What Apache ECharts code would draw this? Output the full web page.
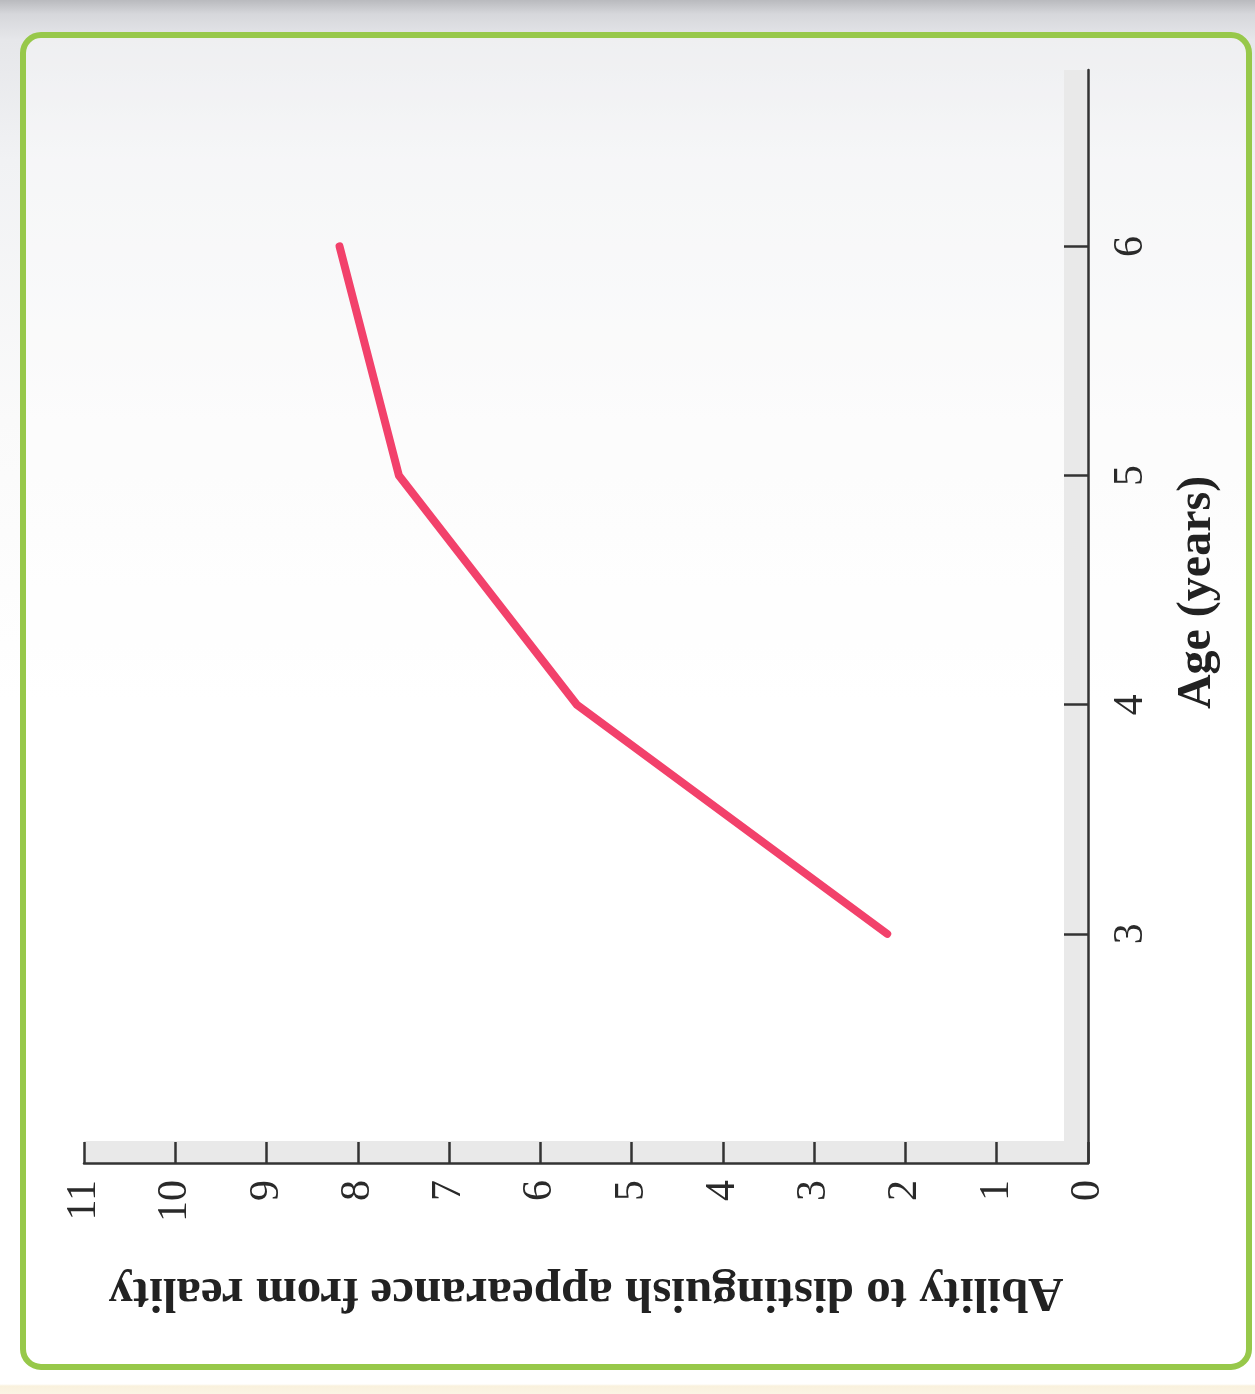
<!DOCTYPE html>
<html>
<head>
<meta charset="utf-8">
<script src="https://cdn.jsdelivr.net/npm/echarts@6/dist/echarts.min.js"></script>
<style>
  html, body { margin: 0; padding: 0; }
  body {
    width: 1255px; height: 1394px; overflow: hidden;
    background: linear-gradient(to bottom, #b9babe 0px, #d6d7db 14px, #e6e7ea 40px, #f1f2f4 160px, #fafafa 420px, #ffffff 700px, #ffffff 1384px, #f9f1dd 1386px, #fbf4e4 1394px);
  }
  #chart { width: 1255px; height: 1394px; }
</style>
</head>
<body>
<div id="chart"></div>
<script>
// age on the vertical (right) axis, ability on the horizontal (bottom) axis - the page is scanned sideways
const ages = [3, 4, 5, 6];
const ability = [2.2, 5.6, 7.55, 8.2];
const abilityTicks = [0, 11];   // min / max of ability axis
const ageRange = [2, 6.77];

const myChart = echarts.init(document.getElementById('chart'));

const serif = '"Liberation Serif", "DejaVu Serif", serif';

myChart.setOption({
  backgroundColor: 'transparent',
  animation: false,
  grid: { left: 84, right: 167, top: 70, bottom: 231, containLabel: false },
  graphic: [
    {
      // green frame round the figure
      type: 'rect', z: -10,
      shape: { x: 23, y: 35, width: 1226, height: 1332, r: 18 },
      style: { fill: 'rgba(255,255,255,0.35)', stroke: '#97c84a', lineWidth: 6 }
    },
    {
      // grey shade along the ability axis
      type: 'rect', z: -5,
      shape: { x: 84, y: 1141, width: 1004, height: 22 },
      style: { fill: '#e9e9e9' }
    },
    {
      // grey shade along the age axis
      type: 'rect', z: -5,
      shape: { x: 1064, y: 70, width: 24, height: 1093 },
      style: { fill: '#e9e9e9' }
    }
  ],
  xAxis: {
    type: 'value',
    min: abilityTicks[0],
    max: abilityTicks[1],
    interval: 1,
    inverse: true,
    position: 'bottom',
    name: 'Ability to distinguish appearance from reality',
    nameLocation: 'middle',
    nameGap: 104,
    nameRotate: 180,
    nameTextStyle: { fontFamily: serif, fontWeight: 'bold', fontSize: 49, color: '#222' },
    axisLine: { show: true, lineStyle: { color: '#333', width: 2.5 } },
    axisTick: { show: true, inside: true, length: 21, lineStyle: { color: '#333', width: 2.5 } },
    axisLabel: { rotate: 90, margin: 17, fontFamily: serif, fontSize: 42, color: '#2a2a2a' },
    splitLine: { show: false }
  },
  yAxis: {
    type: 'value',
    min: ageRange[0],
    max: ageRange[1],
    interval: 1,
    position: 'right',
    name: 'Age (years)',
    nameLocation: 'middle',
    nameGap: 86,
    nameRotate: 90,
    nameTextStyle: { fontFamily: serif, fontWeight: 'bold', fontSize: 48, color: '#222', padding: [0, 0, 0, 48] },
    axisLine: { show: true, lineStyle: { color: '#333', width: 2.5 } },
    axisTick: { show: true, inside: true, length: 24, lineStyle: { color: '#333', width: 2.5 } },
    axisLabel: {
      rotate: 90, margin: 22, fontFamily: serif, fontSize: 42, color: '#2a2a2a',
      showMinLabel: false, showMaxLabel: false,
      formatter: v => (v === ageRange[0] ? '' : String(v))
    },
    splitLine: { show: false }
  },
  series: [
    {
      type: 'line',
      data: ages.map((a, i) => [ability[i], a]),
      showSymbol: false,
      lineStyle: { color: '#f2416b', width: 8, cap: 'round', join: 'round' }
    }
  ]
});
</script>
</body>
</html>
